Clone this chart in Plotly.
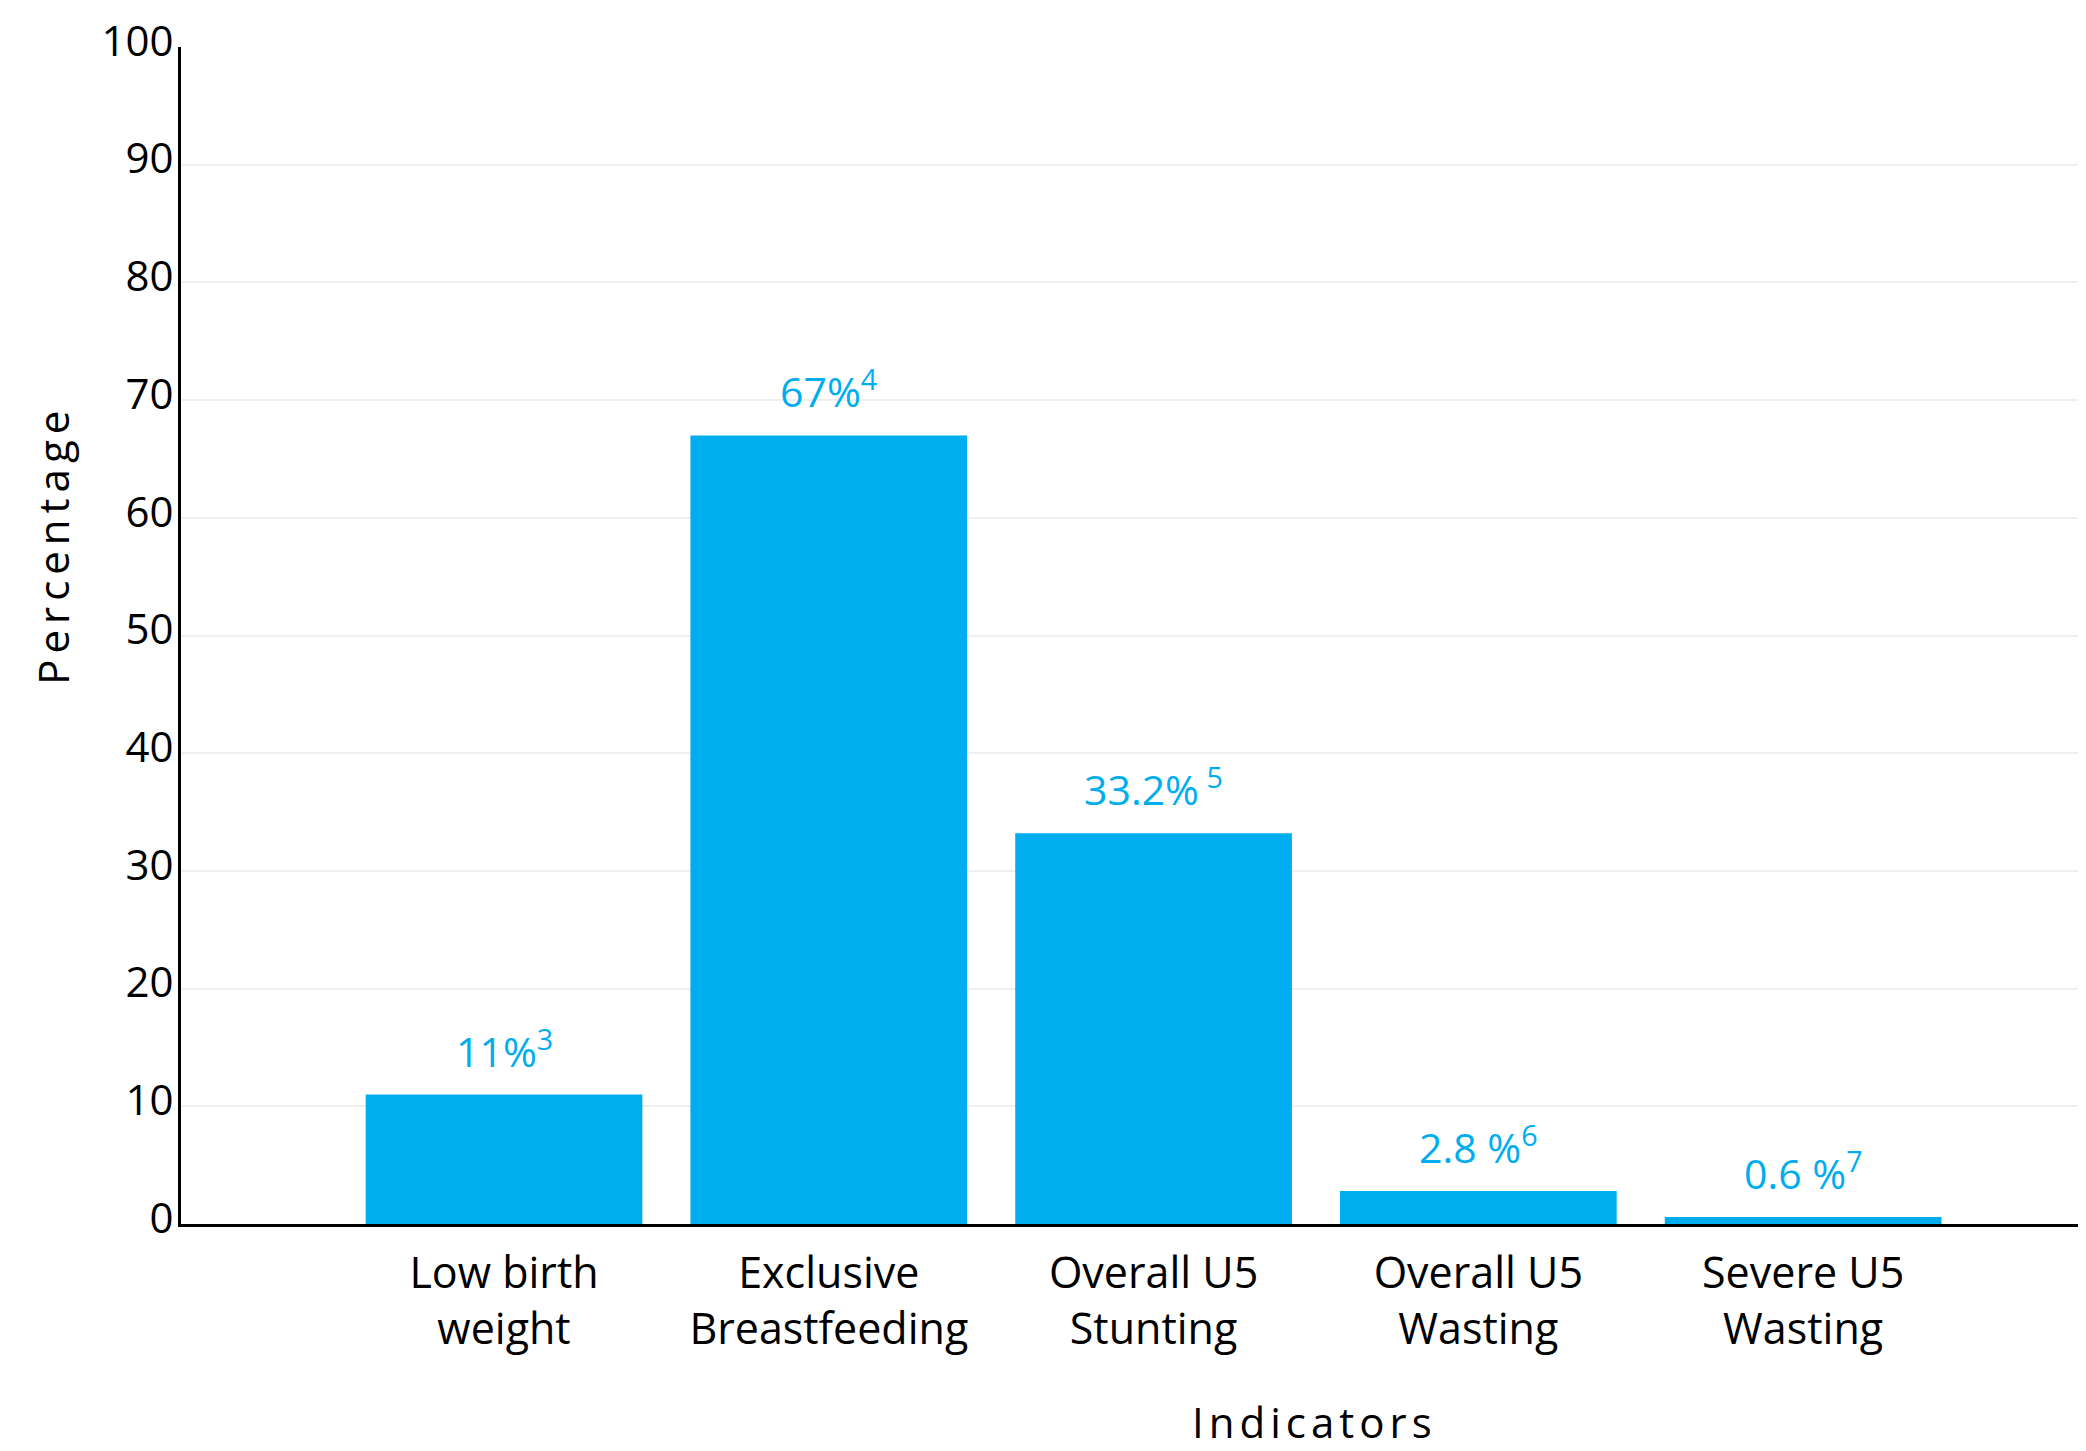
import plotly.graph_objects as go

categories = ["Low birth<br>weight", "Exclusive<br>Breastfeeding", "Overall U5<br>Stunting",
              "Overall U5<br>Wasting", "Severe U5<br>Wasting"]
values = [11, 67, 33.2, 2.8, 0.6]
value_labels = ["11%<sup>3</sup>", "67%<sup>4</sup>", "33.2%<sup> 5</sup>",
                "2.8 %<sup>6</sup>", "0.6 %<sup>7</sup>"]
y_ticks = [0, 10, 20, 30, 40, 50, 60, 70, 80, 90, 100]

BLUE = "#00AEEF"
FONT = "Open Sans"

fig = go.Figure()
fig.add_trace(go.Bar(
    x=list(range(len(categories))), y=values,
    marker=dict(color=BLUE, line=dict(width=0)),
    width=0.852,
    hoverinfo="skip",
))

for i, (v, lab) in enumerate(zip(values, value_labels)):
    fig.add_annotation(x=i, y=v, text=lab, showarrow=False, xref="x", yref="y",
                       yanchor="bottom", yshift=14,
                       font=dict(family=FONT, size=41, color=BLUE))

fig.add_annotation(text='<span style="letter-spacing:6px">Percentage</span>', textangle=-90,
                   xref="paper", yref="paper", x=-0.0672, y=0.577,
                   xanchor="center", yanchor="middle", showarrow=False,
                   font=dict(family=FONT, size=42, color="black"))
fig.add_annotation(text='<span style="letter-spacing:5px">Indicators</span>',
                   xref="paper", yref="paper", x=0.595, y=-0.168,
                   xanchor="center", yanchor="middle", showarrow=False,
                   font=dict(family=FONT, size=42, color="black"))

fig.update_layout(
    width=2078, height=1443,
    margin=dict(l=173, r=0, t=39, b=227),
    plot_bgcolor="white", paper_bgcolor="white",
    showlegend=False,
    font=dict(family=FONT, color="black"),
    xaxis=dict(
        range=[-0.9946, 4.871],
        tickmode="array", tickvals=list(range(len(categories))), ticktext=categories,
        showgrid=False, zeroline=False,
        showline=True, linecolor="black", linewidth=3,
        ticks="", ticklabelstandoff=9,
        tickfont=dict(family=FONT, size=43, color="black"),
    ),
    yaxis=dict(
        range=[0, 100], tickvals=y_ticks,
        showgrid=True, gridcolor="#efefef", gridwidth=1.5,
        zeroline=False,
        showline=True, linecolor="black", linewidth=3,
        ticks="", ticklabelstandoff=-4, ticklabelshift=-6,
        tickfont=dict(family=FONT, size=42, color="black"),
    ),
)

fig.write_html("out.html")
